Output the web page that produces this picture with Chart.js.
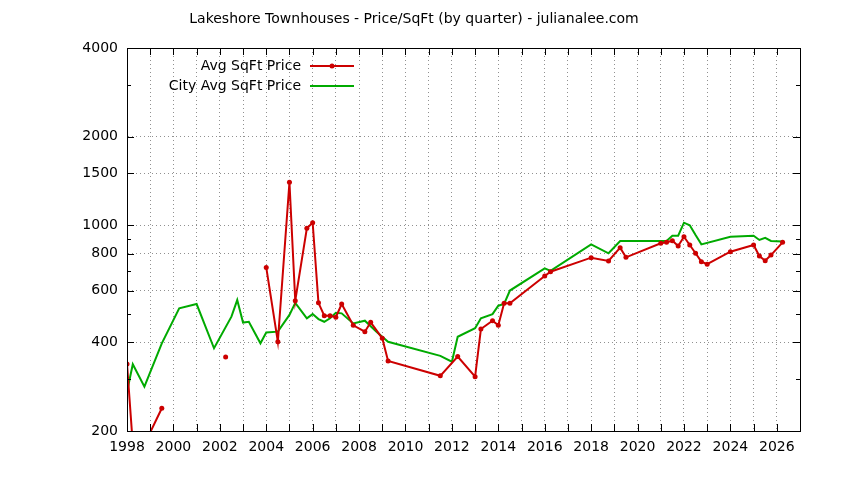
<!DOCTYPE html>
<html>
<head>
<meta charset="utf-8">
<script src="https://cdn.jsdelivr.net/npm/chart.js@4.4.0/dist/chart.umd.min.js"></script>
<style>
  html, body { margin: 0; padding: 0; background: #fff; }
  #wrap { width: 844px; height: 480px; }
</style>
</head>
<body>
<div id="wrap"><canvas id="miGrafico" width="844" height="480"></canvas></div>
<script>
// quarters of the Lakeshore series (null = no sales that quarter)
var quartersLake = [1998, 1998.25, 1998.5, 1998.75, 1999.5, 1999.75, 2002.25, 2002.5,
  2004, 2004.5, 2005, 2005.25, 2005.75, 2006, 2006.25, 2006.5, 2006.75, 2007, 2007.25,
  2007.75, 2008.25, 2008.5, 2009, 2009.25, 2011.5, 2012.25, 2013, 2013.25, 2013.75, 2014,
  2014.25, 2014.5, 2016, 2016.25, 2018, 2018.75, 2019.25, 2019.5, 2021, 2021.25, 2021.5,
  2021.75, 2022, 2022.25, 2022.5, 2022.75, 2023, 2024, 2025, 2025.25, 2025.5, 2025.75, 2026.25];
var priceLake = [338, 180, 165, 180, 239, null, 357, null,
  719, 402, 1400, 554, 976, 1020, 545, 493, 493, 487, 540,
  457, 435, 468, 413, 346, 308, 358, 306, 444, 474, 457,
  543, 543, 672, 695, 776, 756, 839, 778, 868, 875, 886,
  850, 914, 857, 803, 752, 737, 813, 857, 786, 758, 792, 875];

var quartersCity = [1998, 1998.25, 1998.75, 1999.5, 2000.25, 2001, 2001.75, 2002.5, 2002.75,
  2003, 2003.25, 2003.75, 2004, 2004.5, 2005, 2005.25, 2005.75, 2006, 2006.25, 2006.5,
  2006.75, 2007, 2007.25, 2007.75, 2008.25, 2008.75, 2009.25, 2011.5, 2012, 2012.25, 2013,
  2013.25, 2013.75, 2014, 2014.25, 2014.5, 2016, 2016.25, 2018, 2018.75, 2019.25, 2021.25,
  2021.5, 2021.75, 2022, 2022.25, 2022.5, 2022.75, 2024, 2025, 2025.25, 2025.5, 2025.75, 2026.25];
var priceCity = [272, 337, 283, 397, 522, 540, 382, 489, 557,
  467, 470, 397, 432, 435, 496, 545, 483, 499, 480, 470,
  483, 504, 502, 464, 474, 435, 402, 360, 344, 418, 447,
  483, 499, 533, 540, 600, 714, 700, 861, 803, 884, 884,
  921, 921, 1020, 1000, 926, 861, 914, 921, 891, 906, 884, 880];

var yTicks = [200, 300, 400, 500, 600, 700, 800, 900, 1000, 1500, 2000, 3000, 4000];
var yLabels = [200, 400, 600, 800, 1000, 1500, 2000, 4000];

var rojo = '#cc0000';
var verde = '#00aa00';
var fuente = 'DejaVu Sans';
var gris = '#909090';

function pares(xs, ys) {
  return xs.map(function (x, i) { return { x: x, y: ys[i] }; });
}

function esMayor(v) { return yLabels.indexOf(v) >= 0; }

// marco, ticks hacia adentro, titulo y leyenda al estilo gnuplot
var marco = {
  id: 'marco',
  afterDraw: function (chart) {
    var ctx = chart.ctx;
    var a = chart.chartArea;
    var sx = chart.scales.x;
    var sy = chart.scales.y;
    ctx.save();
    ctx.setLineDash([]);
    ctx.strokeStyle = '#000';
    ctx.lineWidth = 1;
    ctx.strokeRect(Math.round(a.left) + 0.5, Math.round(a.top) + 0.5,
      Math.round(a.right - a.left), Math.round(a.bottom - a.top));
    ctx.beginPath();
    yTicks.forEach(function (v) {
      var py = Math.round(sy.getPixelForValue(v)) + 0.5;
      var len = esMayor(v) ? 7 : 4;
      ctx.moveTo(a.left, py); ctx.lineTo(a.left + len, py);
      ctx.moveTo(a.right, py); ctx.lineTo(a.right - len, py);
    });
    for (var yr = 1999; yr <= 2026; yr++) {
      var px = Math.round(sx.getPixelForValue(yr)) + 0.5;
      ctx.moveTo(px, a.bottom); ctx.lineTo(px, a.bottom - 7);
      ctx.moveTo(px, a.top); ctx.lineTo(px, a.top + 7);
    }
    ctx.stroke();

    ctx.fillStyle = '#000';
    ctx.font = '14px "' + fuente + '"';
    ctx.textAlign = 'center';
    ctx.textBaseline = 'middle';
    ctx.fillText('Lakeshore Townhouses - Price/SqFt (by quarter) - julianalee.com', 414, 19);

    ctx.textAlign = 'right';
    var filas = [
      { txt: chart.data.datasets[0].label, color: rojo, y: 66, punto: true },
      { txt: chart.data.datasets[1].label, color: verde, y: 86, punto: false }
    ];
    filas.forEach(function (f) {
      ctx.fillStyle = '#000';
      ctx.fillText(f.txt, 301, f.y);
      ctx.strokeStyle = f.color;
      ctx.lineWidth = 2;
      ctx.beginPath();
      ctx.moveTo(310, f.y); ctx.lineTo(354, f.y);
      ctx.stroke();
      if (f.punto) {
        ctx.fillStyle = f.color;
        ctx.beginPath();
        ctx.arc(332, f.y, 2.5, 0, Math.PI * 2);
        ctx.fill();
      }
    });
    ctx.restore();
  }
};

var canvas = document.getElementById('miGrafico');
var grafico = new Chart(canvas, {
  type: 'line',
  data: {
    datasets: [{
      label: 'Avg SqFt Price',
      data: pares(quartersLake, priceLake),
      borderColor: rojo,
      backgroundColor: rojo,
      borderWidth: 2,
      pointRadius: 2.5,
      pointHoverRadius: 2.5,
      pointBorderWidth: 0,
      tension: 0,
      spanGaps: false
    }, {
      label: 'City Avg SqFt Price',
      data: pares(quartersCity, priceCity),
      borderColor: verde,
      backgroundColor: verde,
      borderWidth: 2,
      pointRadius: 0,
      tension: 0
    }]
  },
  options: {
    responsive: false,
    animation: false,
    events: [],
    layout: { padding: { top: 48, right: 44, left: 0, bottom: 0 } },
    plugins: {
      legend: { display: false },
      title: { display: false },
      tooltip: { enabled: false }
    },
    scales: {
      x: {
        type: 'linear',
        min: 1998,
        max: 2027,
        afterFit: function (s) { s.height = 49; },
        ticks: {
          stepSize: 1,
          autoSkip: false,
          maxRotation: 0,
          padding: 8,
          color: '#000',
          font: { family: fuente, size: 14 },
          callback: function (v) { return (v % 2 === 0 && v < 2027) ? String(v) : ''; }
        },
        grid: {
          drawTicks: false,
          color: function (c) {
            var v = c.tick ? c.tick.value : 0;
            return (v > 1998 && v < 2027) ? gris : 'rgba(0,0,0,0)';
          },
          lineWidth: 1,
          borderDash: [1, 3]
        },
        border: { color: '#000', width: 1, dash: [1, 3] }
      },
      y: {
        type: 'logarithmic',
        min: 200,
        max: 4000,
        afterFit: function (s) { s.width = 127; },
        afterBuildTicks: function (s) {
          s.ticks = yTicks.map(function (v) { return { value: v }; });
        },
        ticks: {
          autoSkip: false,
          padding: 9,
          color: '#000',
          font: { family: fuente, size: 14 },
          callback: function (v) { return esMayor(v) ? String(v) : ''; }
        },
        grid: {
          drawTicks: false,
          color: function (c) {
            var v = c.tick ? c.tick.value : 0;
            return (esMayor(v) && v > 200 && v < 4000) ? gris : 'rgba(0,0,0,0)';
          },
          lineWidth: 1,
          borderDash: [1, 3]
        },
        border: { color: '#000', width: 1, dash: [1, 3] }
      }
    }
  },
  plugins: [marco]
});
</script>
</body>
</html>
